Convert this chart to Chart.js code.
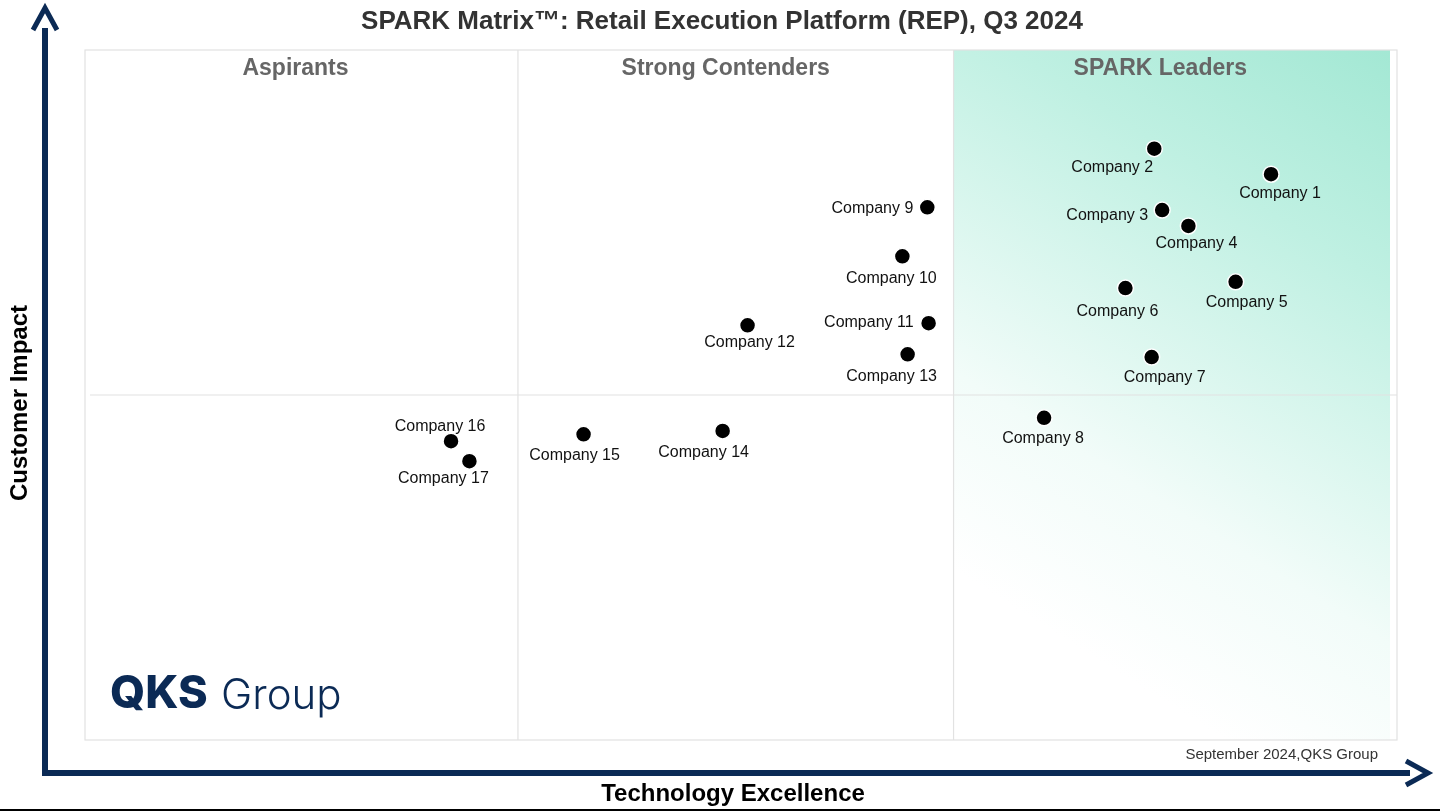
<!DOCTYPE html>
<html><head><meta charset="utf-8">
<script src="https://cdn.jsdelivr.net/npm/chart.js@4/dist/chart.umd.min.js"></script>
<style>html,body{margin:0;padding:0;background:#fff;overflow:hidden}#c{display:block}</style>
</head><body>
<div style="width:1440px;height:811px"><canvas id="c"></canvas></div>
<script>
const companies = ["Company 1","Company 2","Company 3","Company 4","Company 5","Company 6","Company 7","Company 8","Company 9","Company 10","Company 11","Company 12","Company 13","Company 14","Company 15","Company 16","Company 17"];
const techExcellence = [90.4,81.5,82.1,84.1,87.7,79.3,81.3,73.1,64.2,62.3,64.3,50.5,62.7,48.6,38.0,27.9,29.3];
const customerImpact = [82.0,85.7,76.8,74.5,66.4,65.5,55.5,46.7,77.2,70.1,60.4,60.1,55.9,44.8,44.3,43.3,40.4];
const quadrantLabels = ["Aspirants","Strong Contenders","SPARK Leaders"];
const quadrantBounds = [0,33,66.2,100];
const yDivider = 50;
// label placement: [anchor, dx, dy]
const labelPlace = [["c",9,19],["c",-42,19],["r",-14,6],["c",8,18],["c",11,21],["c",-8,24],["c",13,21],["c",-1,21],["r",-14,1],["c",-11,22],["r",-15,-1],["c",2,17],["c",-16,22],["c",-19,22],["c",-9,21],["c",-11,-15],["c",-26,17]];

const navy = "#0b2a55";
const bgPlugin = {
  id:"bg",
  beforeDatasetsDraw(chart){
    const {ctx, scales:{x,y}} = chart;
    const l=x.getPixelForValue(0), r=x.getPixelForValue(100), t=y.getPixelForValue(100), b=y.getPixelForValue(0);
    const q2=x.getPixelForValue(quadrantBounds[2]), r2=r-7;
    ctx.save();
    const g = ctx.createLinearGradient(r2, t, q2+80, b-120);
    g.addColorStop(0,"#a3e8d4"); g.addColorStop(0.3,"#bff0e2"); g.addColorStop(0.75,"#f2fcf9"); g.addColorStop(1,"#ffffff");
    ctx.fillStyle=g; ctx.fillRect(q2,t,r2-q2,b-t);
    ctx.strokeStyle="#e2e2e2"; ctx.lineWidth=1.2;
    ctx.strokeRect(l,t,r-l,b-t);
    ctx.beginPath();
    [1,2].forEach(i=>{const px=x.getPixelForValue(quadrantBounds[i]); ctx.moveTo(px,t); ctx.lineTo(px,b);});
    const py=y.getPixelForValue(yDivider); ctx.moveTo(l+5,py); ctx.lineTo(r,py);
    ctx.stroke();
    ctx.fillStyle="#666"; ctx.font="bold 23px 'Liberation Sans', Arial"; ctx.textAlign="center"; ctx.textBaseline="middle";
    quadrantLabels.forEach((s,i)=>{ctx.fillText(s,(x.getPixelForValue(quadrantBounds[i])+x.getPixelForValue(quadrantBounds[i+1]))/2+(i===0?-6:(i===1?-10:-15)),t+19);});
    ctx.restore();
  },
  afterDatasetsDraw(chart){
    const {ctx} = chart; const meta=chart.getDatasetMeta(0);
    ctx.save(); ctx.fillStyle="#111"; ctx.font="16px 'Liberation Sans', Arial"; ctx.textBaseline="middle";
    meta.data.forEach((p,i)=>{const [a,dx,dy]=labelPlace[i]; ctx.textAlign=a==="r"?"right":"center"; ctx.fillText(companies[i],p.x+dx,p.y+dy);});
    ctx.restore();
  },
  afterDraw(chart){
    const {ctx}=chart; ctx.save();
    ctx.fillStyle=navy; ctx.strokeStyle=navy; ctx.lineWidth=6;
    ctx.beginPath(); ctx.moveTo(45,28); ctx.lineTo(45,773); ctx.lineTo(1410,773); ctx.stroke();
    ctx.beginPath(); ctx.moveTo(33,30); ctx.lineTo(45,8); ctx.lineTo(57,30); ctx.lineWidth=5; ctx.stroke();
    ctx.beginPath(); ctx.moveTo(1406,761); ctx.lineTo(1428,773); ctx.lineTo(1406,785); ctx.stroke();
    ctx.fillStyle="#333"; ctx.font="bold 26px 'Liberation Sans', Arial"; ctx.textAlign="center"; ctx.textBaseline="middle";
    ctx.fillText("SPARK Matrix\u2122: Retail Execution Platform (REP), Q3 2024",722,22);
    ctx.fillStyle="#000"; ctx.font="bold 24px 'Liberation Sans', Arial";
    ctx.fillText("Technology Excellence",733,794);
    ctx.save(); ctx.translate(20,403); ctx.rotate(-Math.PI/2); ctx.fillText("Customer Impact",0,0); ctx.restore();
    ctx.fillStyle="#333"; ctx.font="15px 'Liberation Sans', Arial"; ctx.textAlign="right";
    ctx.fillText("September 2024,QKS Group",1378,755);
    ctx.fillStyle=navy; ctx.textAlign="left"; ctx.font="800 45px Inter, Arial";
    ctx.fillText("QKS",110,694);
    ctx.font="300 42px Inter, Arial"; ctx.fillText("Group",221,696);
    ctx.fillStyle="#000"; ctx.fillRect(0,809,1440,2);
    ctx.restore();
  }
};

new Chart(document.getElementById("c"),{
  type:"scatter",
  data:{datasets:[{label:"Vendors",data:techExcellence.map((v,i)=>({x:v,y:customerImpact[i]})),
    backgroundColor:"#000",borderColor:"#fff",borderWidth:1.5,pointRadius:8,pointHoverRadius:8}]},
  options:{responsive:true,maintainAspectRatio:false,animation:false,
    layout:{padding:{left:85,right:43,top:50,bottom:71}},
    plugins:{legend:{display:false},tooltip:{enabled:false}},
    scales:{x:{min:0,max:100,display:false},y:{min:0,max:100,display:false}}},
  plugins:[bgPlugin]
});
</script></body></html>
